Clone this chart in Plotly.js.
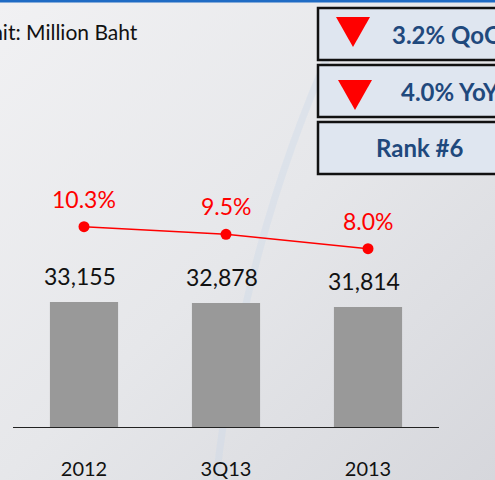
<!DOCTYPE html>
<html>
<head>
<meta charset="utf-8">
<script src="https://cdn.plot.ly/plotly-3.0.1.min.js"></script>
<style>
html,body{margin:0;padding:0;background:#e6e7ea;}
#chart{width:495px;height:480px;}
</style>
</head>
<body>
<div id="chart"></div>
<script>
// ---- data ----
var categories = ["2012", "3Q13", "2013"];
var revenue = [33155, 32878, 31814];          // Million Baht
var revenueLabels = ["33,155", "32,878", "31,814"];
var share = [10.3, 9.5, 8.0];                 // %
var shareLabels = ["10.3%", "9.5%", "8.0%"];
var unitText = "Unit: Million Baht";
var kpiTexts = ["3.2% QoQ", "4.0% YoY", "Rank #6"];

// ---- layout geometry (pixels) ----
var W = 495, H = 480;
var M = {l: 13, r: 56, t: 180, b: 53};
var PW = W - M.l - M.r, PH = H - M.t - M.b;
function px(x) { return (x - M.l) / PW; }
function py(y) { return (H - M.b - y) / PH; }

var FONT = "Lato, 'Open Sans', sans-serif";

var bar = {
  type: "bar", x: categories, y: revenue,
  marker: {color: "#999999"},
  hoverinfo: "skip", showlegend: false
};
var line = {
  type: "scatter", mode: "lines+markers", x: categories, y: share, yaxis: "y2",
  line: {color: "#ff0000", width: 1.5},
  marker: {color: "#ff0000", size: 11},
  hoverinfo: "skip", showlegend: false
};

var annotations = [];
categories.forEach(function (c, i) {
  // category axis position = index of the category
  annotations.push({
    x: i, y: revenue[i], xref: "x", yref: "y", text: revenueLabels[i],
    showarrow: false, yanchor: "bottom", xanchor: "center", xshift: -4, yshift: 10,
    font: {family: FONT, size: 23, color: "#111111"}
  });
  annotations.push({
    x: i, y: share[i], xref: "x", yref: "y2", text: shareLabels[i],
    showarrow: false, yanchor: "bottom", xanchor: "center", yshift: 12,
    font: {family: FONT, size: 23, color: "#ff0000"}
  });
});
// unit text
annotations.push({
  x: px(140), y: py(32), xref: "paper", yref: "paper", text: unitText,
  showarrow: false, xanchor: "right", yanchor: "middle",
  font: {family: FONT, size: 21, color: "#111111"}
});
// KPI box texts
var kpiPos = [[390, 35, "left"], [399, 91, "left"], [420, 147, "center"]];
kpiTexts.forEach(function (t, i) {
  annotations.push({
    x: px(kpiPos[i][0]), y: py(kpiPos[i][1]), xref: "paper", yref: "paper",
    text: "<b>" + t + "</b>", showarrow: false,
    xanchor: kpiPos[i][2], yanchor: "middle",
    font: {family: FONT, size: 24, color: "#1f497d"}
  });
});

var shapes = [];
// top blue band
shapes.push({type: "rect", xref: "paper", yref: "paper", x0: px(-5), x1: px(505), y0: py(2.5), y1: py(-5),
  fillcolor: "#1f6bc4", line: {width: 0}, layer: "below"});
// faint arc
shapes.push({type: "path", xref: "paper", yref: "paper",
  path: "M " + px(335) + "," + py(40) + " Q " + px(240) + "," + py(250) + " " + px(215) + "," + py(490),
  line: {color: "rgba(200,215,232,0.35)", width: 7}, layer: "below"});
// KPI boxes
var boxes = [[8, 60], [65, 117], [122, 174]];
boxes.forEach(function (b) {
  shapes.push({type: "rect", xref: "paper", yref: "paper",
    x0: px(318), x1: px(520), y0: py(b[1]), y1: py(b[0]),
    fillcolor: "rgba(222,230,240,0.95)", line: {color: "#111111", width: 2.5}});
});
// red down triangles
var tris = [[336, 370, 17, 47], [338, 372, 80, 110]];
tris.forEach(function (t) {
  shapes.push({type: "path", xref: "paper", yref: "paper",
    path: "M " + px(t[0]) + "," + py(t[2]) + " L " + px(t[1]) + "," + py(t[2]) +
          " L " + px((t[0] + t[1]) / 2) + "," + py(t[3]) + " Z",
    fillcolor: "#ff0000", line: {width: 0}});
});

var bgSvg = '<svg xmlns="http://www.w3.org/2000/svg" width="495" height="480">' +
  '<defs><linearGradient id="g" x1="0" y1="0" x2="1" y2="1">' +
  '<stop offset="0" stop-color="#f1f1f3"/><stop offset="0.5" stop-color="#e6e7ea"/>' +
  '<stop offset="1" stop-color="#d6d7dc"/></linearGradient></defs>' +
  '<rect width="495" height="480" fill="url(#g)"/></svg>';

var layout = {
  width: W, height: H,
  margin: M,
  paper_bgcolor: "#e6e7ea",
  plot_bgcolor: "rgba(0,0,0,0)",
  bargap: 0.52,
  showlegend: false,
  xaxis: {
    type: "category", range: [-0.5, 2.5], fixedrange: true,
    showline: true, linecolor: "#222222", linewidth: 1,
    ticks: "outside", ticklen: 24, tickcolor: "rgba(0,0,0,0)",
    tickfont: {family: FONT, size: 20, color: "#111111"},
    showgrid: false, zeroline: false
  },
  yaxis: {range: [0, 65500], visible: false, fixedrange: true},
  yaxis2: {range: [-10.64, 15.18], overlaying: "y", side: "right", visible: false, fixedrange: true},
  annotations: annotations,
  shapes: shapes,
  images: [{
    source: "data:image/svg+xml;base64," + btoa(bgSvg),
    xref: "paper", yref: "paper", x: px(0), y: py(0), sizex: px(W) - px(0), sizey: py(0) - py(H),
    xanchor: "left", yanchor: "top", sizing: "stretch", layer: "below"
  }]
};

Plotly.newPlot("chart", [bar, line], layout, {staticPlot: true, displayModeBar: false});
</script>
</body>
</html>
